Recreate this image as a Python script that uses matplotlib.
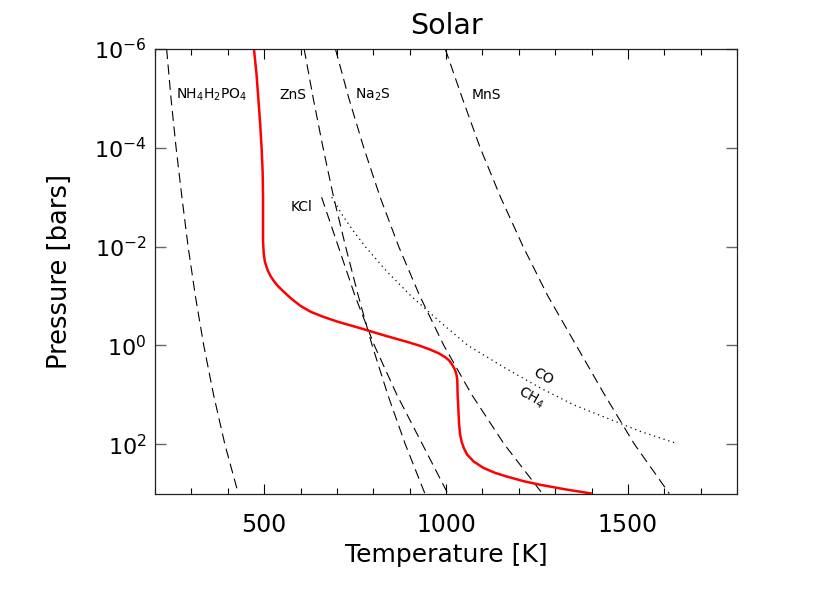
import matplotlib
matplotlib.use('Agg')
import matplotlib.pyplot as plt
from matplotlib.ticker import FixedLocator, MultipleLocator, NullLocator
import numpy as np

# ---------------- data ----------------
# T-P profile (red)
prof_logP = [-6.0, -5.5, -5.0, -4.5, -4.0, -3.5, -3.0, -2.5, -2.1, -1.85, -1.7,
             -1.6, -1.5, -1.4, -1.3, -1.2, -1.1, -0.95, -0.8, -0.68, -0.58,
             -0.48, -0.4, -0.31, -0.22, -0.14, -0.07, 0.0, 0.08, 0.16, 0.23,
             0.30, 0.40, 0.50, 0.60, 0.70, 1.0, 1.3, 1.6, 1.81, 1.95, 2.08,
             2.21, 2.35, 2.48, 2.58, 2.65, 2.75, 2.82, 2.91, 3.0]
prof_T = [472, 479, 484, 489, 493, 496, 497, 497, 497, 499, 502,
          506, 511, 518, 527, 538, 552, 574, 600, 628, 662,
          702, 740, 782, 822, 860, 894, 925, 955, 980, 996,
          1008, 1018, 1025, 1029, 1031, 1032, 1034, 1036, 1039, 1043, 1049,
          1058, 1076, 1103, 1135, 1165, 1214, 1258, 1325, 1401]

# condensation curves (dashed)
nh4_logP = [-6, -5, -4, -3, -2, -1, 0, 1, 2, 3]
nh4_T = [232, 244, 258, 274, 291, 311, 334, 361, 392, 429]

zns_logP = [-6, -5, -4, -3, -2, -1, 0, 1, 2, 3]
zns_T = [610, 635, 662, 691, 724, 759, 797, 840, 888, 942]

kcl_logP = [-3, -2, -1, 0, 1, 2, 3]
kcl_T = [658, 704, 750, 803, 865, 935, 1005]

na2s_logP = [-6, -5, -4, -3, -2, -1, 0, 1, 2, 3]
na2s_T = [696, 733, 774, 819, 870, 928, 994, 1071, 1160, 1265]

mns_logP = [-6, -5, -4, -3, -2, -1, 0, 1, 2, 3]
mns_T = [998, 1045, 1094, 1150, 1212, 1280, 1358, 1436, 1518, 1614]

# CO / CH4 equal-abundance line (dotted)
co_logP = [-3.0, -2.66, -2.32, -2.0, -1.5, -1.0, -0.5, 0.0, 0.46, 0.86, 1.2,
           1.47, 1.74, 1.98]
co_T = [686, 713, 745, 778, 837, 904, 980, 1060, 1163, 1259, 1350,
        1442, 1534, 1632]

x_major = [500, 1000, 1500]
y_major = [1e-6, 1e-4, 1e-2, 1e0, 1e2]
y_labels = [r'$10^{-6}$', r'$10^{-4}$', r'$10^{-2}$', r'$10^{0}$', r'$10^{2}$']

labels = [  # text, T, logP, rotation
    (r'NH$_4$H$_2$PO$_4$', 356, -5.07, 0),
    ('ZnS', 579, -5.07, 0),
    (r'Na$_2$S', 798, -5.07, 0),
    ('MnS', 1112, -5.07, 0),
    ('KCl', 603, -2.81, 0),
    ('CO', 1267, 0.62, -29),
    (r'CH$_4$', 1234, 1.06, -29),
]

# ---------------- figure ----------------
plt.rcParams['font.family'] = ['DejaVu Sans']
plt.rcParams['mathtext.fontset'] = 'dejavusans'

fig = plt.figure(figsize=(8.3, 5.93), dpi=100)
ax = fig.add_axes([155 / 830, 1 - 493.6 / 593, (737 - 155) / 830, (493.6 - 49) / 593])

def P(lp):
    return 10.0 ** np.asarray(lp, dtype=float)

dash = dict(color='black', lw=0.8, dashes=(9, 5))
for T, lp in [(nh4_T, nh4_logP), (zns_T, zns_logP), (kcl_T, kcl_logP),
              (na2s_T, na2s_logP), (mns_T, mns_logP)]:
    ax.plot(T, P(lp), **dash)

ax.plot(co_T, P(co_logP), color='black', lw=0.9, linestyle=(0, (1, 3)))
ax.plot(prof_T, P(prof_logP), color='red', lw=1.8, solid_capstyle='butt',
        solid_joinstyle='round')

for txt, T, lp, rot in labels:
    ax.text(T, 10 ** lp, txt, ha='center', va='center', fontsize=10, rotation=rot,
            rotation_mode='anchor')

ax.set_yscale('log')
ax.set_xlim(200, 1800)
ax.set_ylim(1e3, 1e-6)
ax.xaxis.set_major_locator(FixedLocator(x_major))
ax.xaxis.set_minor_locator(MultipleLocator(100))
ax.set_xticklabels([str(v) for v in x_major])
ax.yaxis.set_major_locator(FixedLocator(y_major))
ax.yaxis.set_minor_locator(NullLocator())
ax.set_yticklabels(y_labels)

ax.tick_params(axis='both', which='both', direction='in', top=True, right=True)
ax.tick_params(axis='x', which='major', length=7.5, width=0.8, labelsize=17, pad=14)
ax.tick_params(axis='x', which='minor', length=4, width=0.8)
ax.tick_params(axis='y', which='major', length=8, width=1.0, labelsize=16, pad=6,
               color='#666666')
for s in ax.spines.values():
    s.set_linewidth(0.9)
    s.set_color('#222222')

ax.set_xlabel('Temperature [K]', fontsize=18)
ax.xaxis.set_label_coords(0.5, -0.111)
ax.set_ylabel('Pressure [bars]', fontsize=18.5)
ax.yaxis.set_label_coords(-0.141, 0.5)
ax.set_title('Solar', fontsize=20.5, pad=11)

fig.savefig('out.png', dpi=100)
